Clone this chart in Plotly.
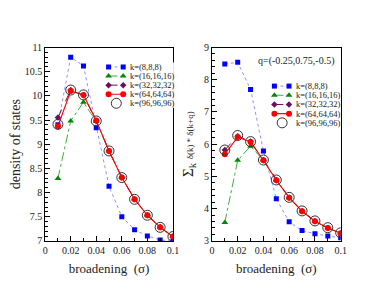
import plotly.graph_objects as go

sigma = [0.01, 0.02, 0.03, 0.04, 0.05, 0.06, 0.07, 0.08, 0.09, 0.1]

# density of states (left panel)
dos_k8 = [9.40, 10.80, 10.62, 9.34, 8.13, 7.50, 7.23, 7.10, 7.02, 6.99]
dos_k16 = [8.29, 9.48, 9.87, 9.47, 8.86, 8.31, 7.86, 7.53, 7.28, 7.09]
dos_k32 = [9.55, 10.12, 10.01, 9.48, 8.86, 8.31, 7.86, 7.53, 7.28, 7.09]
dos_k64 = [9.37, 10.10, 10.02, 9.49, 8.86, 8.31, 7.86, 7.53, 7.28, 7.09]
dos_k96 = [9.41, 10.12, 10.02, 9.48, 8.86, 8.31, 7.86, 7.53, 7.28, 7.09]

# nesting function (right panel)
nest_k8 = [8.49, 8.54, 7.70, 5.79, 4.31, 3.59, 3.32, 3.22, 3.15, 3.10]
nest_k16 = [3.57, 5.50, 5.94, 5.50, 4.88, 4.34, 3.92, 3.61, 3.40, 3.24]
nest_k32 = [5.82, 6.25, 6.08, 5.50, 4.88, 4.34, 3.92, 3.61, 3.40, 3.24]
nest_k64 = [5.69, 6.22, 6.07, 5.50, 4.88, 4.34, 3.92, 3.61, 3.40, 3.24]
nest_k96 = [5.82, 6.27, 6.08, 5.51, 4.89, 4.35, 3.93, 3.62, 3.41, 3.25]

labels = ["k=(8,8,8)", "k=(16,16,16)", "k=(32,32,32)", "k=(64,64,64)", "k=(96,96,96)"]
q_label = "q=(-0.25,0.75,-0.5)"

FONT = "Liberation Serif"
INK = "#222222"

# page body has an 8px margin: the figure is placed at (8, 8) in the window
OFF = 8
W, H = 374 - OFF, 289 - OFF


def px(x):
    return (x - OFF) / W


def py(y):
    return 1 - (y - OFF) / H


styles = [
    dict(mode="lines+markers", line=dict(color="#8f8fff", width=1, dash="dot"),
         marker=dict(symbol="square", size=5, color="#0000ff")),
    dict(mode="lines+markers", line=dict(color="#3fae3f", width=1, dash="dashdot"),
         marker=dict(symbol="triangle-up", size=6, color="#008800")),
    dict(mode="lines+markers", line=dict(color="#6a1060", width=1, dash="dash"),
         marker=dict(symbol="diamond", size=5, color="#6a1060")),
    dict(mode="lines+markers", line=dict(color="#ff0000", width=1.1),
         marker=dict(symbol="circle", size=6, color="#ff0000")),
    dict(mode="markers",
         marker=dict(symbol="circle-open", size=10, color="#333333", line=dict(width=1))),
]

fig = go.Figure()
left = [dos_k8, dos_k16, dos_k32, dos_k64, dos_k96]
right = [nest_k8, nest_k16, nest_k32, nest_k64, nest_k96]
for i, ys in enumerate(left):
    fig.add_trace(go.Scatter(x=sigma, y=ys, name=labels[i], xaxis="x", yaxis="y",
                             showlegend=False, **styles[i]))
for i, ys in enumerate(right):
    fig.add_trace(go.Scatter(x=sigma, y=ys, name=labels[i], xaxis="x2", yaxis="y2",
                             showlegend=False, **styles[i]))

# compact legends (xmgrace style: symbol at both ends of the key line)
annotations = []
for xa, ya in (("x3", "y3"), ("x4", "y4")):
    for i, lab in enumerate(labels):
        st = styles[i]
        if st["mode"] == "markers":
            kx, ky = [0.213], [i]
        else:
            kx, ky = [0.107, 0.307], [i, i]
        fig.add_trace(go.Scatter(x=kx, y=ky, xaxis=xa, yaxis=ya, showlegend=False,
                                 hoverinfo="skip", cliponaxis=False, **st))
        annotations.append(dict(text=lab, xref=xa, yref=ya, x=0.373, y=i,
                                xanchor="left", yanchor="middle", showarrow=False,
                                font=dict(family=FONT, size=8.5, color=INK)))

annotations.append(dict(text=q_label, xref="paper", yref="paper",
                        x=px(341), y=py(57), xanchor="right", yanchor="middle",
                        showarrow=False, font=dict(family=FONT, size=10, color=INK)))

axis_common = dict(
    showline=True, linecolor="black", linewidth=1, mirror=True,
    ticks="inside", ticklen=5, tickcolor="black", tickwidth=1,
    showgrid=False, zeroline=False,
    tickfont=dict(family=FONT, size=10, color=INK),
)
hidden = dict(visible=False, fixedrange=True, showgrid=False, zeroline=False)

NBSP = "\u00a0"
xtitle = "broadening" + NBSP + NBSP + "(σ)"

fig.update_layout(
    width=W, height=H,
    margin=dict(l=0, r=0, t=0, b=0),
    paper_bgcolor="white", plot_bgcolor="white",
    font=dict(family=FONT, color=INK),
    showlegend=False,
    xaxis=dict(domain=[px(43), px(174)], range=[0, 0.1], dtick=0.02, tick0=0,
               minor=dict(ticks="inside", ticklen=3, dtick=0.01, tickcolor="black"),
               title=dict(text=xtitle, font=dict(family=FONT, size=13), standoff=9),
               anchor="y", **axis_common),
    yaxis=dict(domain=[py(245), py(43)], range=[7, 11], dtick=0.5, tick0=7,
               minor=dict(ticks="inside", ticklen=3, dtick=0.1, tickcolor="black"),
               title=dict(text="density of states", font=dict(family=FONT, size=14), standoff=5),
               anchor="x", **axis_common),
    xaxis2=dict(domain=[px(214), px(346)], range=[0, 0.1], dtick=0.02, tick0=0,
                minor=dict(ticks="inside", ticklen=3, dtick=0.01, tickcolor="black"),
                title=dict(text=xtitle, font=dict(family=FONT, size=13), standoff=9),
                anchor="y2", **axis_common),
    yaxis2=dict(domain=[py(245), py(43)], range=[3, 9], dtick=1, tick0=3,
                minor=dict(ticks="inside", ticklen=3, dtick=0.2, tickcolor="black"),
                title=dict(text="Σ<sub>k</sub> <span style='font-size:9px'>δ(k) * δ(k+q)</span>",
                           font=dict(family=FONT, size=15), standoff=6),
                anchor="x2", **axis_common),
    xaxis3=dict(domain=[px(100), px(175)], range=[0, 1], anchor="y3", **hidden),
    yaxis3=dict(domain=[py(106), py(58.6)], range=[4.5, -0.5], anchor="x3", **hidden),
    xaxis4=dict(domain=[px(270), px(345)], range=[0, 1], anchor="y4", **hidden),
    yaxis4=dict(domain=[py(126.5), py(78.5)], range=[4.5, -0.5], anchor="x4", **hidden),
    annotations=annotations,
)

fig.write_html("out.html")
